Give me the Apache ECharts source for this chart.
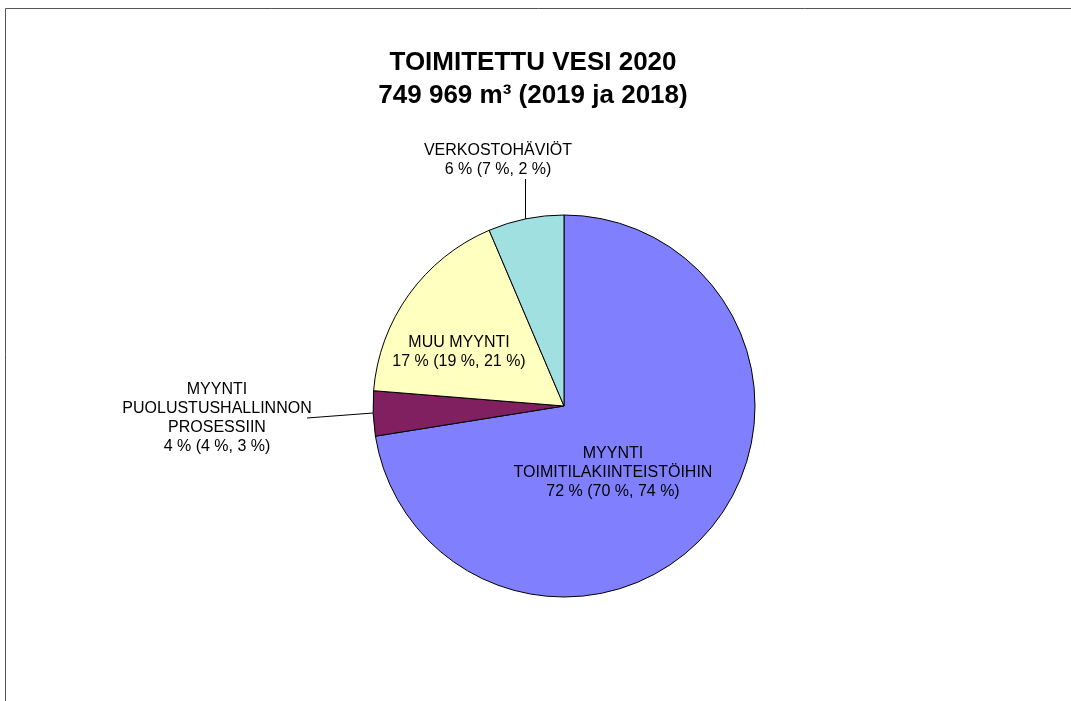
<!DOCTYPE html>
<html>
<head>
<meta charset="utf-8">
<script src="https://cdn.jsdelivr.net/npm/echarts@6/dist/echarts.min.js"></script>
<style>
html,body{margin:0;padding:0;background:#fff;}
#chart{width:1071px;height:701px;}
</style>
</head>
<body>
<div id="chart"></div>
<script>
// Data
const categories = ['MYYNTI\nTOIMITILAKIINTEISTÖIHIN', 'MYYNTI\nPUOLUSTUSHALLINNON\nPROSESSIIN', 'MUU MYYNTI', 'VERKOSTOHÄVIÖT'];
const values = [72.4, 3.8, 17.3, 6.4];
const labelTexts = ['72 % (70 %, 74 %)', '4 % (4 %, 3 %)', '17 % (19 %, 21 %)', '6 % (7 %, 2 %)'];
const colors = ['#8080FF', '#802060', '#FFFFC0', '#A0E0E0'];

// label placement (layout, not data)
const labelPos = [
  {x: 613, y: 473},
  {x: 217, y: 418},
  {x: 459, y: 352},
  {x: 498, y: 160}
];
const linePts = [
  null,
  [[373, 413], [340, 415.5], [307, 418]],
  null,
  [[525.5, 219], [525.5, 200], [525.5, 179]]
];

const chart = echarts.init(document.getElementById('chart'), null, {renderer: 'canvas'});
const option = {
  backgroundColor: '#ffffff',
  animation: false,
  title: {
    text: 'TOIMITETTU VESI 2020\n749 969 m³ (2019 ja 2018)',
    left: 533,
    top: 46,
    padding: 0,
    textAlign: 'center',
    textStyle: {
      fontFamily: 'Liberation Sans, Arial, sans-serif',
      fontWeight: 'bold',
      fontSize: 26,
      lineHeight: 33,
      color: '#000'
    }
  },
  graphic: [
    {type: 'line', shape: {x1: 5.5, y1: 8.5, x2: 1071, y2: 8.5}, style: {stroke: '#555', lineWidth: 1}},
    {type: 'line', shape: {x1: 5.5, y1: 8.5, x2: 5.5, y2: 701}, style: {stroke: '#555', lineWidth: 1}}
  ],
  series: [{
    type: 'pie',
    center: [564, 406],
    radius: [0, 191],
    startAngle: 90,
    clockwise: true,
    avoidLabelOverlap: false,
    itemStyle: {borderColor: '#000', borderWidth: 1},
    label: {
      show: true,
      position: 'outside',
      fontFamily: 'Liberation Sans, Arial, sans-serif',
      fontSize: 16,
      lineHeight: 19,
      color: '#000',
      align: 'center',
      formatter: function (p) { return categories[p.dataIndex] + '\n' + labelTexts[p.dataIndex]; }
    },
    labelLine: {show: true, lineStyle: {color: '#000', width: 1}},
    labelLayout: function (params) {
      const i = params.dataIndex;
      const r = {x: labelPos[i].x, y: labelPos[i].y, align: 'center', verticalAlign: 'middle'};
      if (linePts[i]) r.labelLinePoints = linePts[i];
      return r;
    },
    emphasis: {disabled: true},
    data: values.map(function (v, i) {
      return {
        value: v,
        name: categories[i],
        itemStyle: {color: colors[i]},
        labelLine: {show: !!linePts[i]}
      };
    })
  }]
};
chart.setOption(option);
</script>
</body>
</html>
